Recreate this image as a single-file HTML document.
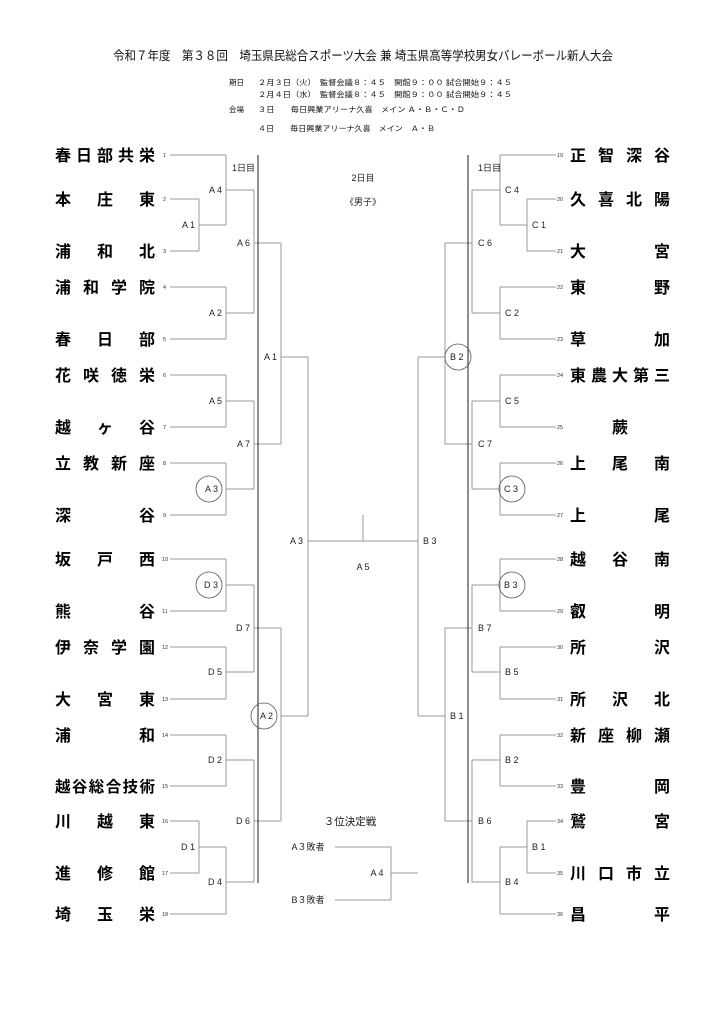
<!DOCTYPE html>
<html><head><meta charset="utf-8"><style>
html,body{margin:0;padding:0;background:#fff;}
svg{display:block;}
.n{font-family:"Liberation Sans","Noto Sans CJK JP",sans-serif;font-weight:bold;font-size:16px;fill:#000;}
.num{font-family:"Liberation Sans",sans-serif;font-size:5.5px;fill:#333;}
.l{font-family:"Liberation Sans","Noto Sans CJK JP",sans-serif;font-size:9px;fill:#222;}
.h{font-family:"Liberation Sans","Noto Sans CJK JP",sans-serif;fill:#111;}
</style></head><body>
<svg width="724" height="1024" viewBox="0 0 724 1024" xmlns="http://www.w3.org/2000/svg">
<rect width="724" height="1024" fill="#fff"/>
<!-- header -->
<text class="h" x="363" y="60" font-size="12.5" text-anchor="middle" textLength="500" lengthAdjust="spacingAndGlyphs">令和７年度　第３８回　埼玉県民総合スポーツ大会 兼 埼玉県高等学校男女バレーボール新人大会</text>
<text class="h" x="229" y="85" font-size="7.5">期日</text>
<text class="h" x="258" y="85" font-size="7.5" textLength="254" lengthAdjust="spacingAndGlyphs">２月３日（火）　監督会議８：４５　開館９：００ 試合開始９：４５</text>
<text class="h" x="258" y="97" font-size="7.5" textLength="254" lengthAdjust="spacingAndGlyphs">２月４日（水）　監督会議８：４５　開館９：００ 試合開始９：４５</text>
<text class="h" x="229" y="112" font-size="7.5">会場</text>
<text class="h" x="258" y="112" font-size="7.5" textLength="207" lengthAdjust="spacingAndGlyphs">３日　　毎日興業アリーナ久喜　メイン Ａ・Ｂ・Ｃ・Ｄ</text>
<text class="h" x="258" y="131" font-size="7.5" textLength="177" lengthAdjust="spacingAndGlyphs">４日　　毎日興業アリーナ久喜　メイン　Ａ・Ｂ</text>

<g fill="none" stroke="#9a9a9a" stroke-width="1">
<path id="lb" d="M170 155H226 M170 199H199 M170 251H199 M170 287H226 M170 339H226 M170 375H226 M170 427H226 M170 463H226 M170 515H226 M170 559H226 M170 611H226 M170 647H226 M170 699H226 M170 735H226 M170 786H226 M170 821H199 M170 873H199 M170 914H226
M199 199V251 M199 821V873 M226 155V225 M226 287V339 M226 375V427 M226 463V515 M226 559V611 M226 647V699 M226 735V786 M226 847V914
M199 225H226 M199 847H226 M226 190H254 M226 313H254 M226 401H254 M226 489H254 M226 585H254 M226 672H254 M226 760H254 M226 882H254
M254 190V313 M254 401V489 M254 585V672 M254 760V882
M254 243H281 M254 444H281 M254 628H281 M254 821H281
M281 243V444 M281 628V821 M281 357H308 M281 716H308 M308 357V716"/>
<g transform="translate(726,0) scale(-1,1)"><use href="#lb"/></g>
<path d="M308 541H418 M363 515V541 M335 847H391 M335 900H391 M391 847V900 M391 873H418"/>
</g>
<g stroke="#333" stroke-width="1.1">
<line x1="258" y1="155" x2="258" y2="883"/>
<line x1="468" y1="155" x2="468" y2="883"/>
</g>
<g fill="none" stroke="#555" stroke-width="0.8">
<circle cx="209" cy="489" r="13"/>
<circle cx="209" cy="585" r="13"/>
<circle cx="264" cy="716" r="13"/>
<circle cx="458" cy="357" r="13"/>
<circle cx="512" cy="489" r="13"/>
<circle cx="512" cy="585" r="13"/>
</g>

<!-- round labels left -->
<g class="l" text-anchor="end">
<text x="222" y="193">A 4</text><text x="195" y="228">A 1</text><text x="250" y="246">A 6</text>
<text x="222" y="316">A 2</text><text x="277" y="360">A 1</text><text x="222" y="404">A 5</text>
<text x="250" y="447">A 7</text><text x="218" y="492">A 3</text><text x="218" y="588">D 3</text>
<text x="250" y="631">D 7</text><text x="222" y="675">D 5</text><text x="273" y="719">A 2</text>
<text x="303" y="544">A 3</text><text x="222" y="763">D 2</text><text x="250" y="824">D 6</text>
<text x="195" y="850">D 1</text><text x="222" y="885">D 4</text>
</g>
<g class="l">
<text x="505" y="193">C 4</text><text x="532" y="228">C 1</text><text x="478" y="246">C 6</text>
<text x="505" y="316">C 2</text><text x="450" y="360">B 2</text><text x="505" y="404">C 5</text>
<text x="478" y="447">C 7</text><text x="504" y="492">C 3</text><text x="504" y="588">B 3</text>
<text x="478" y="631">B 7</text><text x="505" y="675">B 5</text><text x="450" y="719">B 1</text>
<text x="423" y="544">B 3</text><text x="505" y="763">B 2</text><text x="478" y="824">B 6</text>
<text x="532" y="850">B 1</text><text x="505" y="885">B 4</text>
</g>
<g class="l" font-size="7">
<text x="232" y="171">1日目</text><text x="478" y="171">1日目</text>
<text x="363" y="181" text-anchor="middle">2日目</text>
</g>
<text class="l" x="363" y="205" text-anchor="middle" font-size="10">《男子》</text>
<text class="l" x="363" y="570" text-anchor="middle">A 5</text>
<text class="h" x="350" y="825" text-anchor="middle" font-size="10.5">３位決定戦</text>
<text class="l" x="308" y="850" text-anchor="middle" font-size="8.5">A３敗者</text>
<text class="l" x="308" y="903" text-anchor="middle" font-size="8.5">B３敗者</text>
<text class="l" x="377" y="876" text-anchor="middle">A 4</text>

<!-- numbers -->
<g class="num">
<text x="163" y="157">1</text><text x="163" y="201">2</text><text x="163" y="253">3</text><text x="163" y="289">4</text><text x="163" y="341">5</text><text x="163" y="377">6</text><text x="163" y="429">7</text><text x="163" y="465">8</text><text x="163" y="517">9</text><text x="162" y="561">10</text><text x="162" y="613">11</text><text x="162" y="649">12</text><text x="162" y="701">13</text><text x="162" y="737">14</text><text x="162" y="788">15</text><text x="162" y="823">16</text><text x="162" y="875">17</text><text x="162" y="916">18</text>
<text x="557" y="157">19</text><text x="557" y="201">20</text><text x="557" y="253">21</text><text x="557" y="289">22</text><text x="557" y="341">23</text><text x="557" y="377">24</text><text x="557" y="429">25</text><text x="557" y="465">26</text><text x="557" y="517">27</text><text x="557" y="561">28</text><text x="557" y="613">29</text><text x="557" y="649">30</text><text x="557" y="701">31</text><text x="557" y="737">32</text><text x="557" y="788">33</text><text x="557" y="823">34</text><text x="557" y="875">35</text><text x="557" y="916">36</text>
</g>

<!-- team names -->
<g class="n">
<text x="55" y="161" textLength="100" lengthAdjust="spacing">春日部共栄</text>
<text x="55" y="205" textLength="100" lengthAdjust="spacing">本庄東</text>
<text x="55" y="257" textLength="100" lengthAdjust="spacing">浦和北</text>
<text x="55" y="293" textLength="100" lengthAdjust="spacing">浦和学院</text>
<text x="55" y="345" textLength="100" lengthAdjust="spacing">春日部</text>
<text x="55" y="381" textLength="100" lengthAdjust="spacing">花咲徳栄</text>
<text x="55" y="433" textLength="100" lengthAdjust="spacing">越ヶ谷</text>
<text x="55" y="469" textLength="100" lengthAdjust="spacing">立教新座</text>
<text x="55" y="521" textLength="100" lengthAdjust="spacing">深谷</text>
<text x="55" y="565" textLength="100" lengthAdjust="spacing">坂戸西</text>
<text x="55" y="617" textLength="100" lengthAdjust="spacing">熊谷</text>
<text x="55" y="653" textLength="100" lengthAdjust="spacing">伊奈学園</text>
<text x="55" y="705" textLength="100" lengthAdjust="spacing">大宮東</text>
<text x="55" y="741" textLength="100" lengthAdjust="spacing">浦和</text>
<text x="55" y="792" textLength="100" lengthAdjust="spacing" font-size="15.5">越谷総合技術</text>
<text x="55" y="827" textLength="100" lengthAdjust="spacing">川越東</text>
<text x="55" y="879" textLength="100" lengthAdjust="spacing">進修館</text>
<text x="55" y="920" textLength="100" lengthAdjust="spacing">埼玉栄</text>

<text x="570" y="161" textLength="100" lengthAdjust="spacing">正智深谷</text>
<text x="570" y="205" textLength="100" lengthAdjust="spacing">久喜北陽</text>
<text x="570" y="257" textLength="100" lengthAdjust="spacing">大宮</text>
<text x="570" y="293" textLength="100" lengthAdjust="spacing">東野</text>
<text x="570" y="345" textLength="100" lengthAdjust="spacing">草加</text>
<text x="570" y="381" textLength="100" lengthAdjust="spacing">東農大第三</text>
<text x="620" y="433" text-anchor="middle">蕨</text>
<text x="570" y="469" textLength="100" lengthAdjust="spacing">上尾南</text>
<text x="570" y="521" textLength="100" lengthAdjust="spacing">上尾</text>
<text x="570" y="565" textLength="100" lengthAdjust="spacing">越谷南</text>
<text x="570" y="617" textLength="100" lengthAdjust="spacing">叡明</text>
<text x="570" y="653" textLength="100" lengthAdjust="spacing">所沢</text>
<text x="570" y="705" textLength="100" lengthAdjust="spacing">所沢北</text>
<text x="570" y="741" textLength="100" lengthAdjust="spacing">新座柳瀬</text>
<text x="570" y="792" textLength="100" lengthAdjust="spacing">豊岡</text>
<text x="570" y="827" textLength="100" lengthAdjust="spacing">鷲宮</text>
<text x="570" y="879" textLength="100" lengthAdjust="spacing">川口市立</text>
<text x="570" y="920" textLength="100" lengthAdjust="spacing">昌平</text>
</g>
</svg>
</body></html>
